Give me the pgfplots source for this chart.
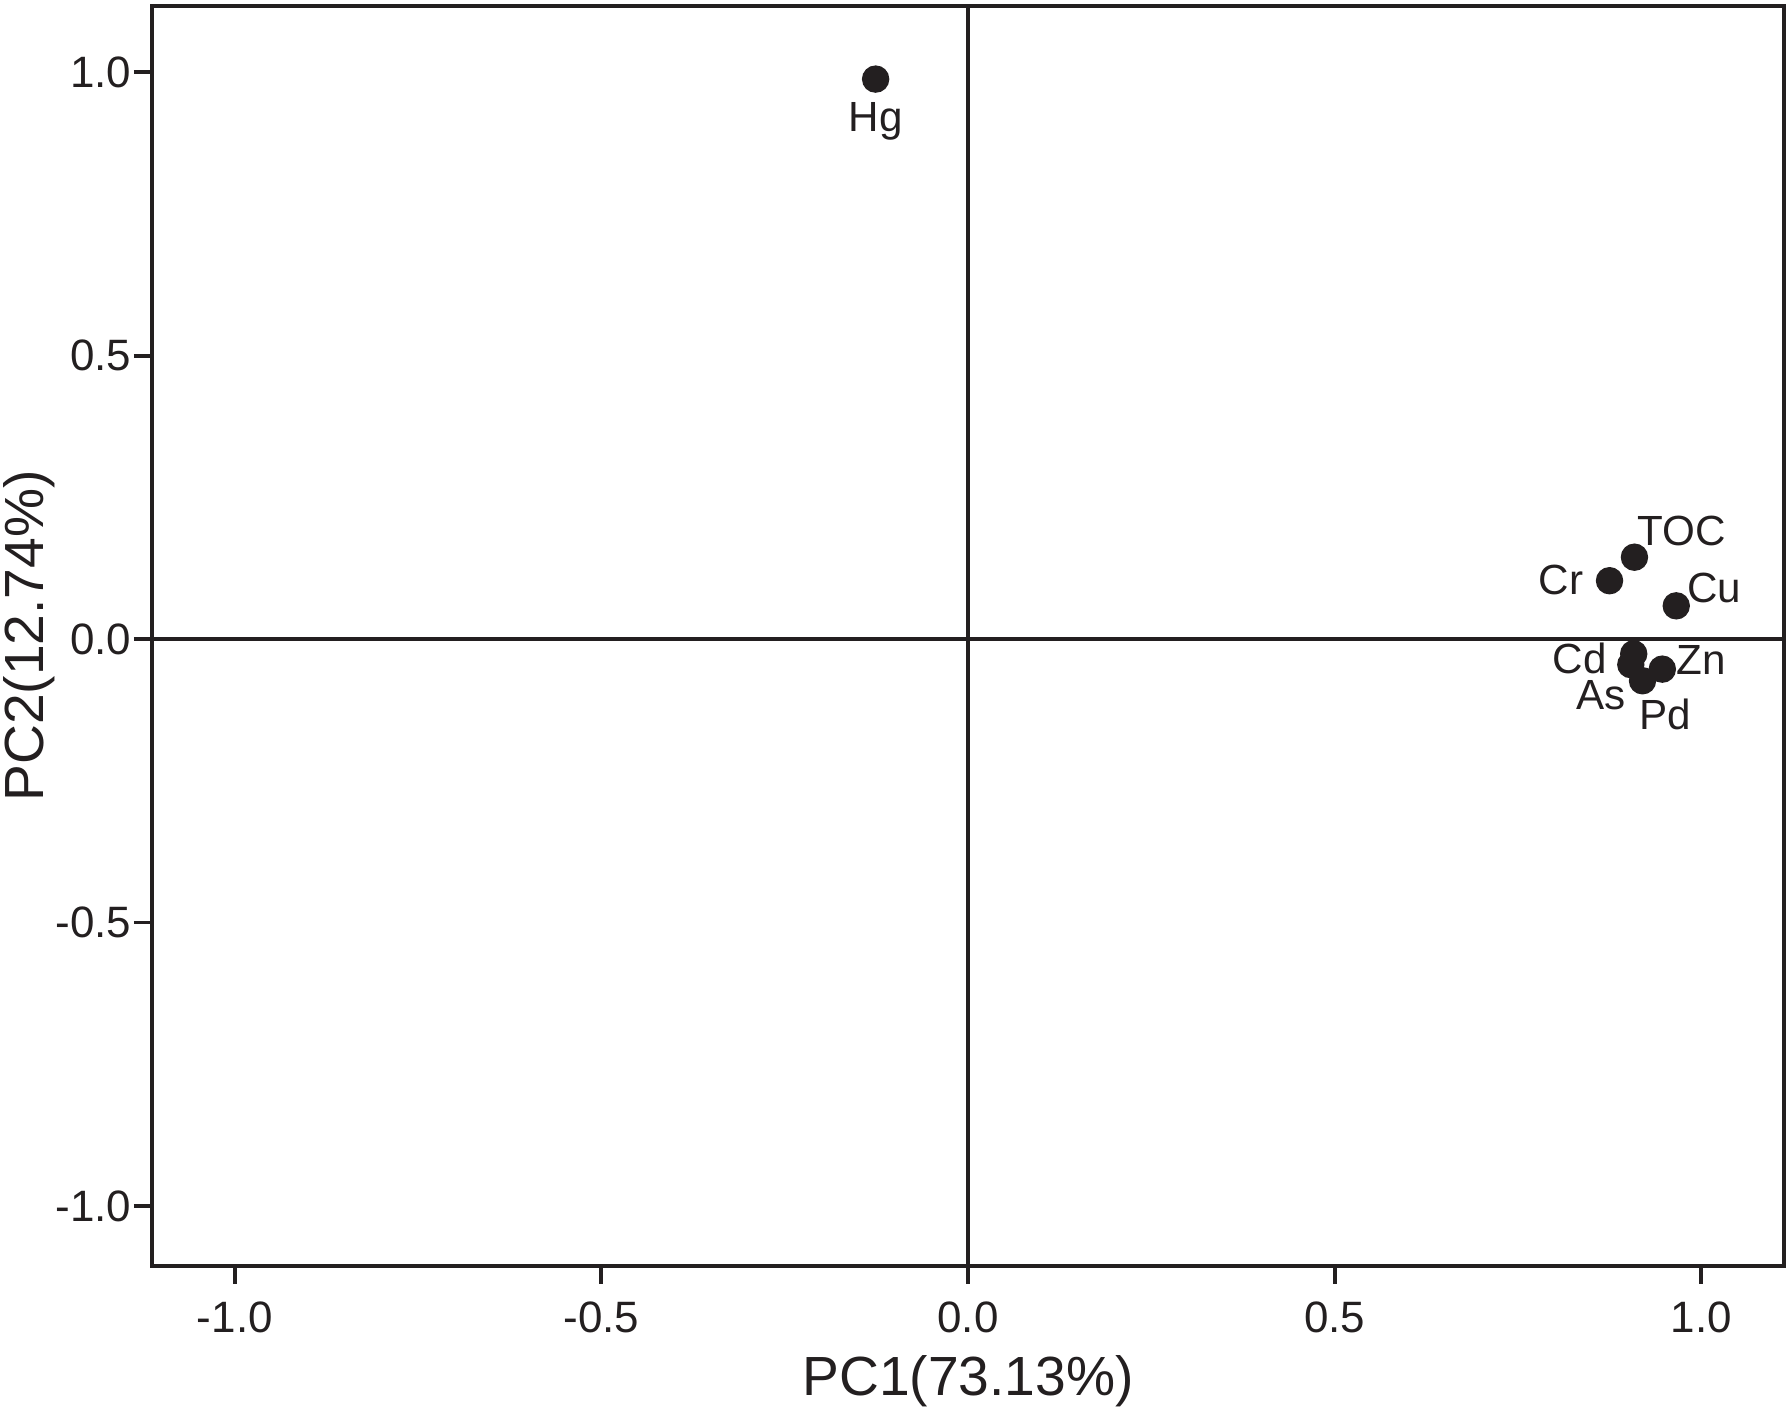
\documentclass[border=0pt]{standalone}
\usepackage{fontspec}
\setmainfont{Liberation Sans}
\usepackage{pgfplots}
\pgfplotsset{compat=1.18}
\definecolor{ink}{RGB}{35,31,32}

\begin{document}
\begin{tikzpicture}
\begin{axis}[
  name=ax,
  scale only axis,
  width=163.2mm, height=126.0mm,
  xmin=-1.113, xmax=1.113,
  ymin=-1.106, ymax=1.117,
  axis line style={ink, line width=1.1pt},
  every tick/.style={ink, line width=1.1pt},
  tick align=outside,
  tick pos=left,
  major tick length=1.8mm,
  xtick={-1,-0.5,0,0.5,1},
  xticklabels={-1.0,-0.5,0.0,0.5,1.0},
  ytick={-1,-0.5,0,0.5,1},
  yticklabels={-1.0,-0.5,0.0,0.5,1.0},
  tick label style={font=\fontsize{12.5}{14}\selectfont, text=ink, inner sep=0pt},
  xticklabel style={anchor=north, yshift=-1.7mm},
  yticklabel style={anchor=east, xshift=-0.2mm},
  xlabel={PC1(73.13\%)},
  ylabel={PC2(12.74\%)},
  label style={font=\fontsize{15.7}{17}\selectfont, text=ink, inner sep=0pt},
  xlabel style={at={(axis description cs:0.5,-0.1025)}, anchor=base},
  ylabel style={at={(axis description cs:-0.0665,0.5)}, anchor=base, rotate=0},
  clip=false,
]
% zero lines
\draw[ink, line width=1.1pt] (axis cs:0,-1.106) -- (axis cs:0,1.117);
\draw[ink, line width=1.1pt] (axis cs:-1.113,0) -- (axis cs:1.113,0);

\addplot[only marks, mark=*, mark size=1.3mm, mark options={draw=ink, fill=ink}]
coordinates {
  (-0.126,0.988) % Hg
  (0.909,0.1445) % TOC
  (0.875,0.103)  % Cr
  (0.966,0.0587) % Cu
  (0.908,-0.026) % Cd
  (0.904,-0.045) % As
  (0.947,-0.053) % Zn
  (0.920,-0.0735) % Pd
};

\begin{scope}[every node/.style={font=\fontsize{12}{14}\selectfont, text=ink, inner sep=0pt}]
\node[anchor=base] at (axis cs:-0.126,0.8947) {Hg};
\node[anchor=base west] at (axis cs:0.912,0.166) {TOC};
\node[anchor=base east] at (axis cs:0.840,0.0793) {Cr};
\node[anchor=base west] at (axis cs:0.980,0.0645) {Cu};
\node[anchor=base east] at (axis cs:0.872,-0.0600) {Cd};
\node[anchor=base west] at (axis cs:0.966,-0.0629) {Zn};
\node[anchor=base east] at (axis cs:0.898,-0.1240) {As};
\node[anchor=base west] at (axis cs:0.915,-0.160) {Pd};
\end{scope}
\end{axis}
\pgfresetboundingbox
\path[use as bounding box] ([shift={(-15.2mm,-14.4mm)}]ax.south west) rectangle ([shift={(0.6mm,0.6mm)}]ax.north east);
\end{tikzpicture}
\end{document}
